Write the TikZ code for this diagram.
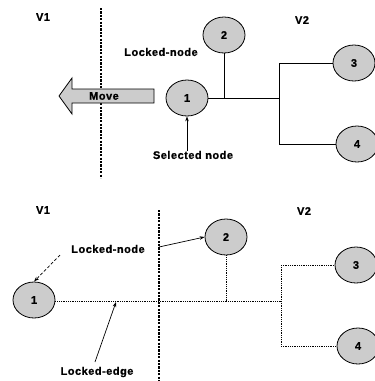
\documentclass[tikz,border=0pt]{standalone}
\usepackage{fontspec}
\newfontfamily\labfont[LetterSpace=4.5,FakeBold=0.8,UprightFont=*-Bold]{Liberation Sans}
\usetikzlibrary{arrows.meta,shapes.geometric}
\begin{document}
\begin{tikzpicture}[x=1pt,y=-1pt,
  lab/.style={font=\labfont\fontsize{11}{13}\selectfont, inner sep=0pt},
  gnode/.style={ellipse, draw=black, line width=0.8pt, fill=gray!40,
     minimum width=42pt, minimum height=36pt, inner sep=0pt,
     font=\labfont\fontsize{11}{13}\selectfont},
  divider/.style={line width=1.4pt, dash pattern=on 2.2pt off 1.2pt},
  link/.style={line width=0.7pt},
  dlink/.style={line width=0.7pt, dash pattern=on 1pt off 0.8pt},
  pointer/.style={line width=0.7pt, -{Stealth[length=5pt,width=3.5pt]}}
]
\useasboundingbox (0,0) rectangle (375,381);
\clip (0,0) rectangle (375,381);

% ---------------- top panel ----------------
\node[lab] (v1a) at (43,17) {V1};
\node[lab] (v2a) at (302,20) {V2};
\coordinate (divAt) at (101,8);
\coordinate (divAb) at (101,178);
\draw[divider] (divAt) -- (divAb);

\fill[gray!40, draw=black, line width=0.8pt]
  (154,89) -- (72,89) -- (72,78) -- (59,96) -- (72,114) -- (72,103) -- (154,103) -- cycle;
\node[lab] (move) at (104,96) {Move};

\node[gnode] (a1) at (187,98) {1};
\node[gnode] (a2) at (224,35) {2};
\node[gnode] (a3) at (354,63) {3};
\node[gnode] (a4) at (357,144) {4};

\coordinate (ja) at (224,98);
\coordinate (jb) at (279,98);
\coordinate (jc) at (279,63);
\coordinate (jd) at (279,144);
\draw[link] (a1.east) -- (jb);
\draw[link] (a2.south) -- (ja);
\draw[link] (jc) -- (jd);
\draw[link] (jc) -- (a3.west);
\draw[link] (jd) -- (a4.west);

\node[lab] (lna) at (161,52) {Locked-node};
\node[lab] (sel) at (193,155) {Selected node};
\draw[pointer] (sel.north -| a1.south) -- (a1.south);

% ---------------- bottom panel ----------------
\node[lab] (v1b) at (43,210) {V1};
\node[lab] (v2b) at (304,211) {V2};
\coordinate (divBt) at (159,210);
\coordinate (divBb) at (159,382);
\draw[divider] (divBt) -- (divBb);

\node[gnode] (b1) at (34,300) {1};
\node[gnode] (b2) at (226,237) {2};
\node[gnode] (b3) at (356,265) {3};
\node[gnode] (b4) at (358,346) {4};

\coordinate (ka) at (226,301);
\coordinate (kb) at (281,301);
\coordinate (kc) at (281,265);
\coordinate (kd) at (281,346);
\draw[dlink] (b1.east |- kb) -- (kb);
\draw[dlink] (b2.south) -- (ka);
\draw[dlink] (kc) -- (kd);
\draw[dlink] (kc) -- (b3.west);
\draw[dlink] (kd) -- (b4.west);

\node[lab] (lnb) at (108,249) {Locked-node};
\coordinate (pn1) at (60,255);
\coordinate (pn2) at (159,247);
\draw[pointer, dash pattern=on 3pt off 2pt] (pn1) -- (b1.north);
\draw[pointer] (pn2) -- (b2.west);

\node[lab] (le) at (97,372) {Locked-edge};
\coordinate (le0) at (95,362);
\coordinate (le1) at (116,302);
\draw[pointer] (le0) -- (le1);
\end{tikzpicture}
\end{document}
